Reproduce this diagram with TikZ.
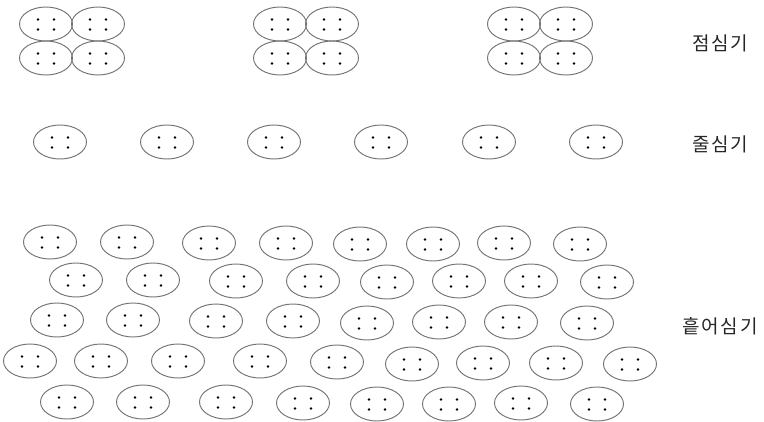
\documentclass[tikz,border=0pt]{standalone}
\usepackage{fontspec}
\newfontfamily\hangulfont[LetterSpace=10]{Noto Sans CJK KR}
\usetikzlibrary{shapes.geometric}
\tikzset{
  seed/.style={ellipse, draw=black!55, line width=0.95pt, minimum width=53pt, minimum height=34pt, inner sep=0pt},
  lbl/.style={anchor=west, inner sep=0pt, text=black!85}
}
\newcommand\seedat[3]{%
  \node[seed] (#3) at (#1,#2) {};
  \fill ([shift={(-8,-4.5)}]#3.center) circle (1.3pt);
  \fill ([shift={(8,-4.5)}]#3.center) circle (1.3pt);
  \fill ([shift={(-8,5.5)}]#3.center) circle (1.3pt);
  \fill ([shift={(8,5.5)}]#3.center) circle (1.3pt);
}
\newcommand\hlabel[1]{{\hangulfont\fontsize{19}{23}\selectfont #1}}
\begin{document}
\begin{tikzpicture}[x=1pt,y=-1pt]
\useasboundingbox (0,0) rectangle (764,421);
% 점심기
\seedat{46}{24}{a1a}\seedat{98}{24}{a1b}\seedat{46}{58}{a1c}\seedat{98}{58}{a1d}
\seedat{280}{24}{a2a}\seedat{332}{24}{a2b}\seedat{280}{58}{a2c}\seedat{332}{58}{a2d}
\seedat{514}{24}{a3a}\seedat{566}{24}{a3b}\seedat{514}{58}{a3c}\seedat{566}{58}{a3d}
% 줄심기
\seedat{60}{142}{b1}\seedat{167}{142}{b2}\seedat{274}{142}{b3}
\seedat{381}{142}{b4}\seedat{489}{142}{b5}\seedat{596}{142}{b6}
% 흩어심기
\foreach \x/\y [count=\i] in {50/242,127/242,209/243,286/243,360/244,433/244,504/243,580/244}
  {\seedat{\x}{\y}{c1-\i}}
\foreach \x/\y [count=\i] in {76/280,153/280,236/281,313/281,387/282,459/281,531/281,607/282}
  {\seedat{\x}{\y}{c2-\i}}
\foreach \x/\y [count=\i] in {57/320,133/320,216/321,293/321,367/323,439/322,511/322,587/323}
  {\seedat{\x}{\y}{c3-\i}}
\foreach \x/\y [count=\i] in {30/361,101/361,178/361,260/361,337/362,412/364,483/363,556/363,630/364}
  {\seedat{\x}{\y}{c4-\i}}
\foreach \x/\y [count=\i] in {67/402,143/402,226/402,303/403,377/404,449/404,521/403,597/404}
  {\seedat{\x}{\y}{c5-\i}}
% labels
\node[lbl] (t1) at (692,43) {\hlabel{점심기}};
\node[lbl] (t2) at (692,144) {\hlabel{줄심기}};
\node[lbl] (t3) at (682,326) {\hlabel{흩어심기}};
\end{tikzpicture}
\end{document}
